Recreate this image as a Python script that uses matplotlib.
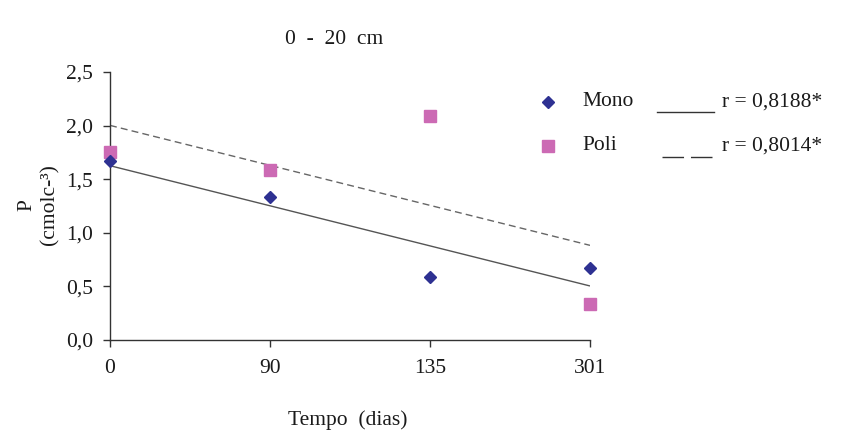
import numpy as np
import matplotlib
matplotlib.use("Agg")
import matplotlib.pyplot as plt

categories = ["0", "90", "135", "301"]
mono = [1.67, 1.33, 0.59, 0.67]
poli = [1.75, 1.59, 2.09, 0.34]
y_ticks = [0.0, 0.5, 1.0, 1.5, 2.0, 2.5]

plt.rcParams['font.family'] = ['Liberation Serif', 'DejaVu Serif']

FS = 15.5
TXT = "#1a1a1a"

fig = plt.figure(figsize=(8.43, 4.32), dpi=100)
ax = fig.add_axes([110/843, 1-340/432, 480/843, 268/432])

x = np.arange(len(categories))
mono_col = "#2E3192"
poli_col = "#CC6AB4"

pm = np.polyfit(x, mono, 1)
pp = np.polyfit(x, poli, 1)
xl = np.array([x[0], x[-1]])
ax.plot(xl, np.polyval(pm, xl), color="#555555", lw=1.0, solid_capstyle='butt')
ax.plot(xl, np.polyval(pp, xl), color="#666666", lw=1.0, dashes=(5, 3))

ax.plot(x, poli, 's', color=poli_col, ms=8, clip_on=False, zorder=5)
ax.plot(x, mono, 'D', color=mono_col, ms=6.5, clip_on=False, zorder=6)

ax.set_xlim(0, 3)
ax.set_ylim(0, 2.5)
ax.set_xticks(x)
ax.set_xticklabels(categories)
ax.set_yticks(y_ticks)
ax.set_yticklabels([f"{v:.1f}".replace(".", ",") for v in y_ticks])
for s in ["top", "right"]:
    ax.spines[s].set_visible(False)
for s in ["left", "bottom"]:
    ax.spines[s].set_color("#333333")
    ax.spines[s].set_linewidth(1.0)
ax.tick_params(axis='both', direction='out', length=5, width=1, colors="#333333",
               labelsize=FS, labelcolor=TXT)
ax.tick_params(axis='x', pad=9)
ax.tick_params(axis='y', pad=7)

fig.text(334/843, 1-40/432, "0  -  20  cm", ha='center', va='center', fontsize=FS, color=TXT)
fig.text(348/843, 1-420/432, "Tempo  (dias)", ha='center', va='center', fontsize=FS, color=TXT)
fig.text(27/843, 1-205/432, "P", ha='center', va='center', rotation=90, fontsize=FS, color=TXT)
fig.text(50/843, 1-205/432, "(cmolc-³)", ha='center', va='center', rotation=90, fontsize=FS, color=TXT)

# legend
fig.lines.append(plt.Line2D([548/843], [1-102/432], marker='D', color=mono_col, ms=6, ls='none', transform=fig.transFigure))
fig.lines.append(plt.Line2D([548/843], [1-146/432], marker='s', color=poli_col, ms=8, ls='none', transform=fig.transFigure))
fig.text(582/843, 1-102/432, "Mono", ha='left', va='center', fontsize=FS, color=TXT)
fig.text(582/843, 1-146/432, "Poli", ha='left', va='center', fontsize=FS, color=TXT)
fig.lines.append(plt.Line2D([657/843, 714/843], [1-112/432]*2, color="#333333", lw=1, transform=fig.transFigure))
fig.lines.append(plt.Line2D([662/843, 714/843], [1-157/432]*2, color="#333333", lw=1, dashes=(15.5, 5), transform=fig.transFigure))
fig.text(722/843, 1-102/432, "r = 0,8188*", ha='left', va='center', fontsize=FS, color=TXT)
fig.text(722/843, 1-146/432, "r = 0,8014*", ha='left', va='center', fontsize=FS, color=TXT)

fig.savefig("out.png", dpi=100)
